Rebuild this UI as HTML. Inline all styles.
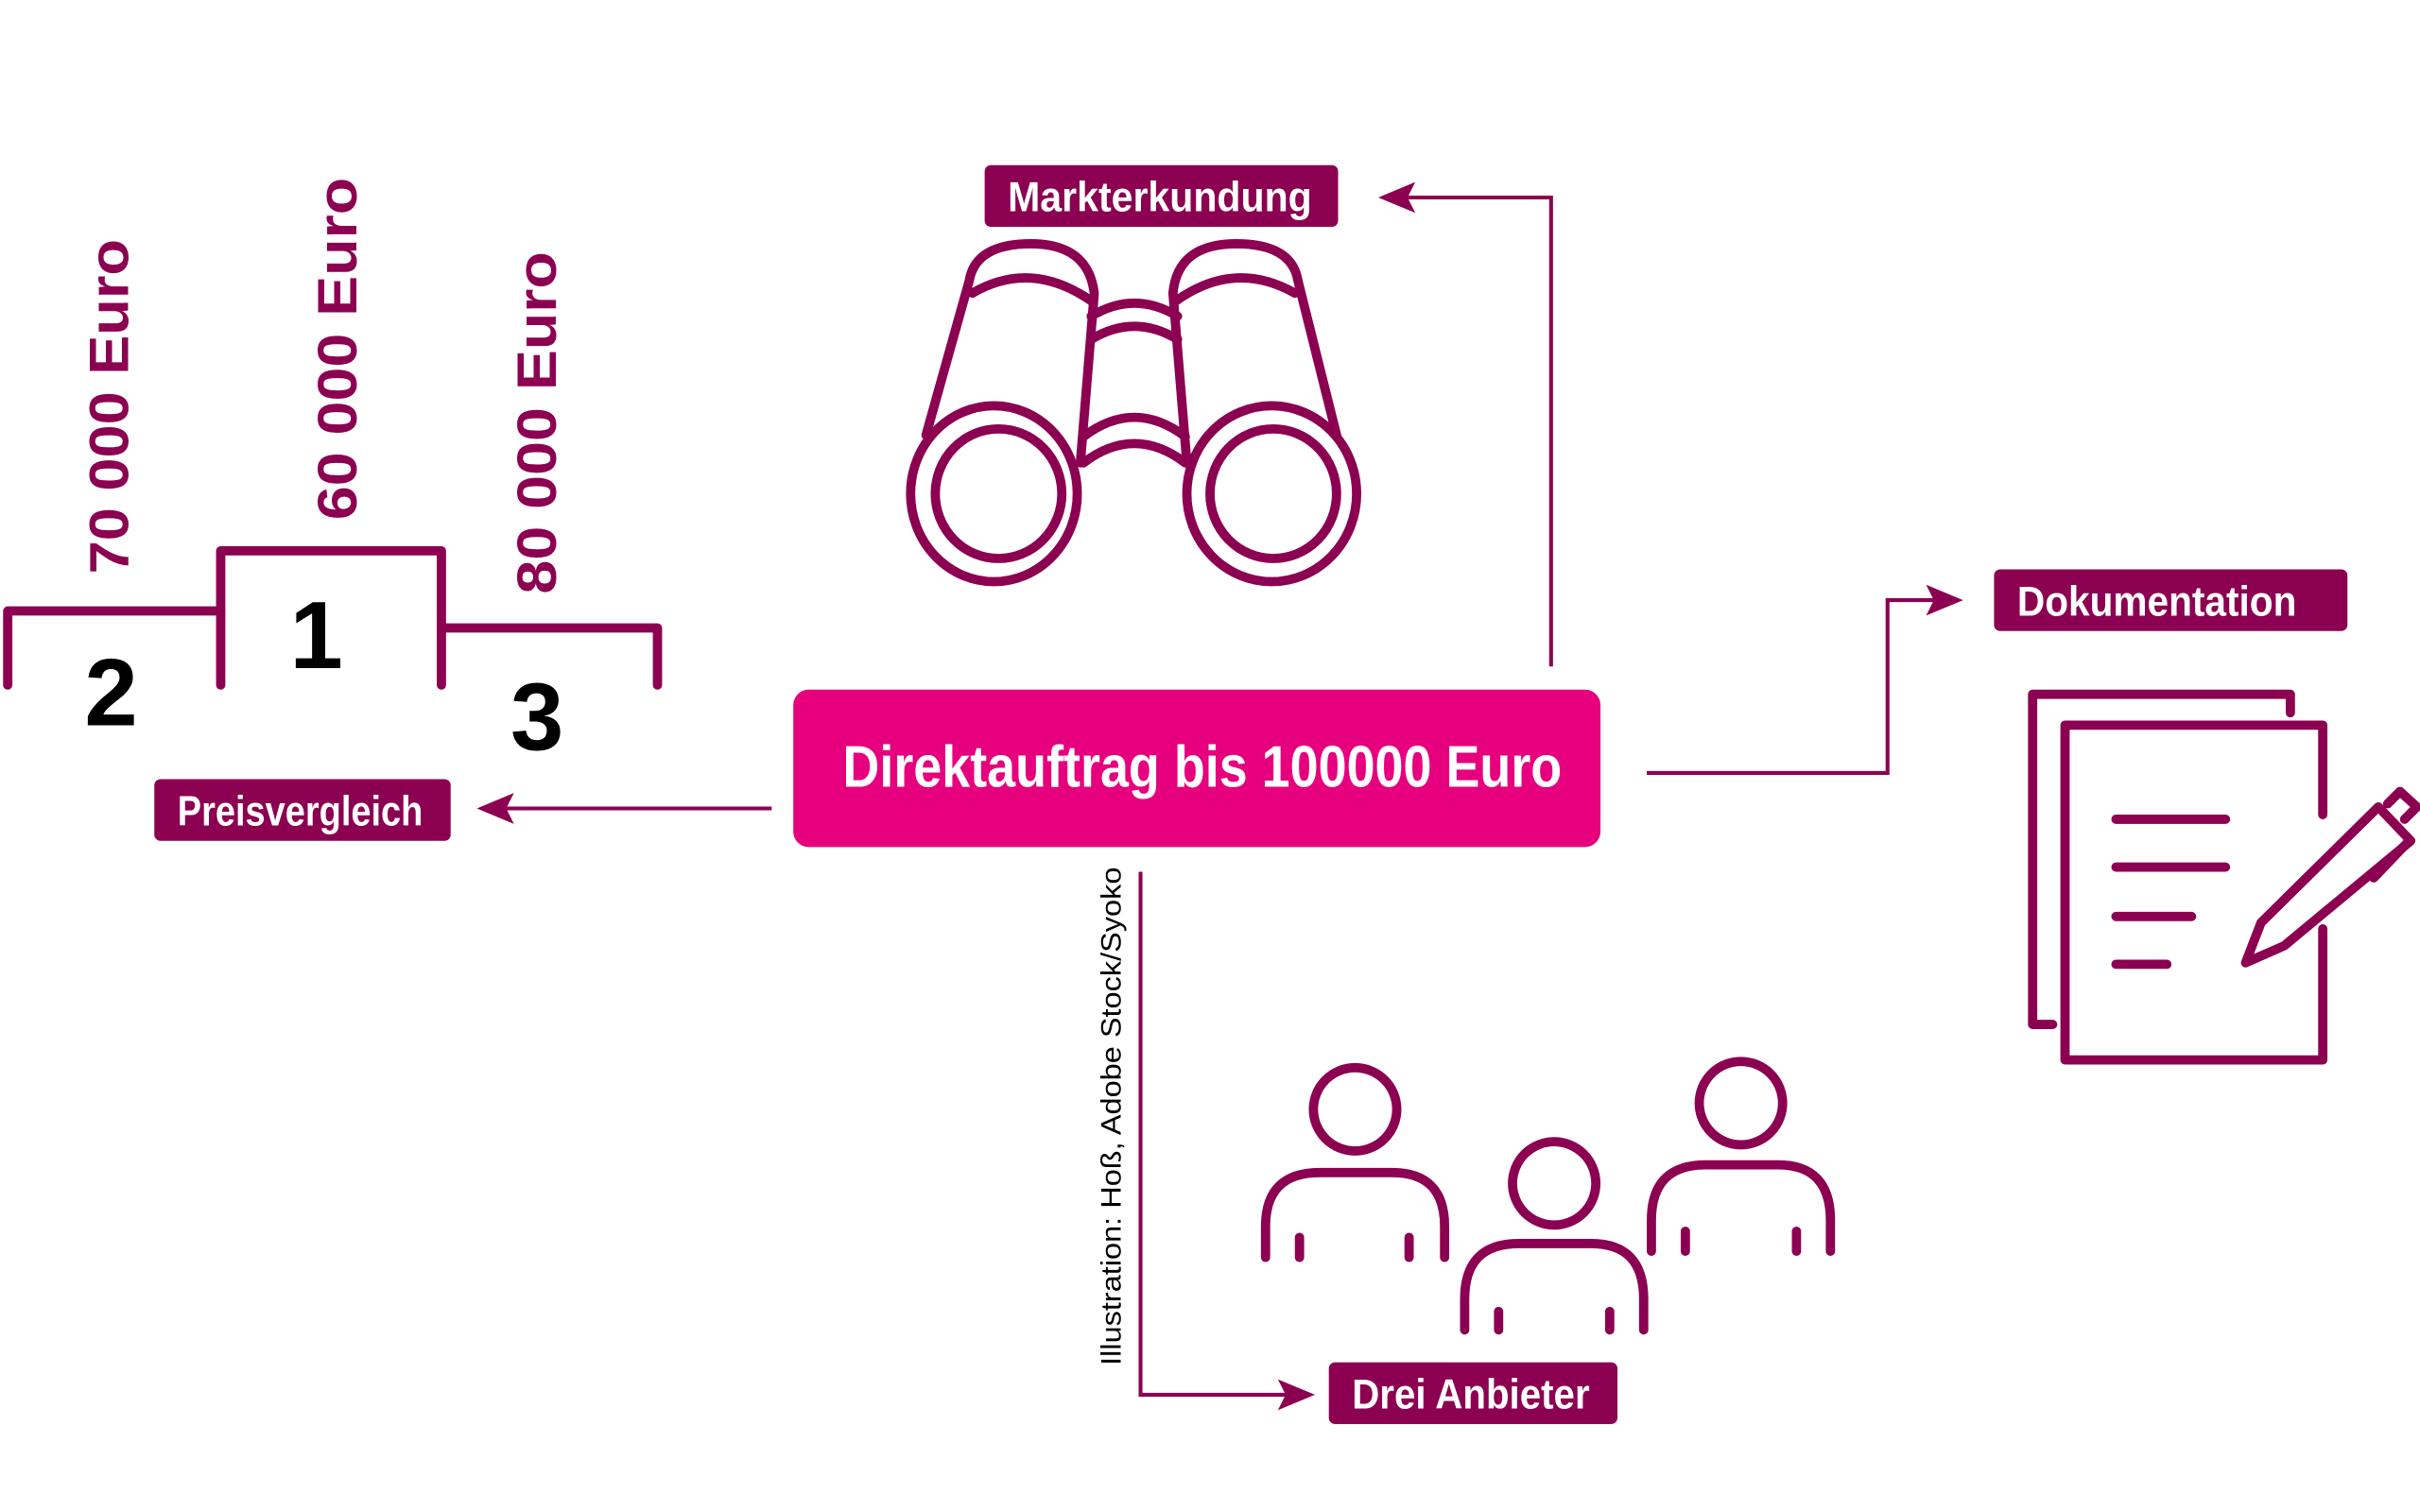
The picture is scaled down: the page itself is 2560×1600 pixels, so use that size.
<!DOCTYPE html>
<html><head><meta charset="utf-8"><style>
html,body{margin:0;padding:0;background:#fff}
svg{display:block}
text{font-family:"Liberation Sans Narrow","Liberation Sans",sans-serif;font-weight:bold}
</style></head><body>
<svg width="2560" height="1600" viewBox="0 0 1568 980" xmlns="http://www.w3.org/2000/svg">
<defs>
<g id="ah"><polygon points="0,0 -24,-10 -19,0 -24,10" fill="#8C0051"/></g>
</defs>
<g fill="none" stroke="#8C0051" stroke-width="6" stroke-linecap="round" stroke-linejoin="round">
<!-- podium -->
<polyline points="5,444 5,396 143,396"/>
<polyline points="143,444 143,357 286,357 286,444"/>
<polyline points="286,407 426,407 426,444"/>
<!-- binoculars -->
<ellipse cx="644" cy="320" rx="54" ry="57"/>
<ellipse cx="647" cy="320" rx="41" ry="42"/>
<ellipse cx="824" cy="320" rx="55" ry="57"/>
<ellipse cx="825" cy="320" rx="41" ry="42"/>
<path d="M600,282 L628,182 Q632,158 668,158 Q705,158 709,190 L700,300"/>
<path d="M630,190 Q668,168 707,195"/>
<path d="M866,282 L841,182 Q837,158 801,158 Q763,158 760,190 L769,300"/>
<path d="M762,195 Q800,168 839,190"/>
<path d="M707,205 Q735,188 763,205 M707,220 Q735,203 763,220"/>
<path d="M702,283 Q735,258 768,283 M702,300 Q735,275 768,300"/>
<!-- documents -->
<polyline points="1484,462 1484,450 1317,450 1317,664 1330,664"/>
<polyline points="1505,528 1505,470 1338,470 1338,687 1505,687 1505,602"/>
<line x1="1371" y1="531" x2="1442" y2="531"/>
<line x1="1371" y1="562" x2="1442" y2="562"/>
<line x1="1371" y1="594" x2="1420" y2="594"/>
<line x1="1371" y1="625" x2="1404" y2="625"/>
<polygon points="1455,624 1465,598 1541,523 1562,545 1480,613"/>
<polyline points="1547,521 1555,513 1566,523 1558,531"/>
<line x1="1538" y1="569" x2="1560" y2="546"/>
<!-- people -->
<circle cx="878" cy="719" r="27"/>
<path d="M820,815 L820,795 Q820,760 855,760 L902,760 Q936,760 936,795 L936,815"/>
<line x1="842" y1="802" x2="842" y2="815"/><line x1="913" y1="802" x2="913" y2="815"/>
<circle cx="1007" cy="767" r="27"/>
<path d="M949,862 L949,842 Q949,806 984,806 L1031,806 Q1065,806 1065,842 L1065,862"/>
<line x1="971" y1="850" x2="971" y2="862"/><line x1="1043" y1="850" x2="1043" y2="862"/>
<circle cx="1128" cy="715" r="27"/>
<path d="M1070,811 L1070,791 Q1070,755 1105,755 L1152,755 Q1186,755 1186,791 L1186,811"/>
<line x1="1092" y1="798" x2="1092" y2="811"/><line x1="1164" y1="798" x2="1164" y2="811"/>
</g>
<!-- connectors -->
<g fill="none" stroke="#8C0051" stroke-width="2.5">
<polyline points="1005,432 1005,128 905,128"/>
<line x1="500" y1="524" x2="320" y2="524"/>
<polyline points="1067,501 1223,501 1223,389 1260,389"/>
<polyline points="739,565 739,904 840,904"/>
</g>
<use href="#ah" transform="translate(893,128) rotate(180)"/>
<use href="#ah" transform="translate(309,524) rotate(180)"/>
<use href="#ah" transform="translate(1272,389)"/>
<use href="#ah" transform="translate(852,904)"/>
<!-- boxes -->
<rect x="514" y="447" width="523" height="102" rx="10" fill="#E6007E"/>
<rect x="638" y="107" width="229" height="40" rx="4" fill="#8C0051"/>
<rect x="100" y="505" width="192" height="40" rx="4" fill="#8C0051"/>
<rect x="1292" y="369" width="229" height="40" rx="4" fill="#8C0051"/>
<rect x="861" y="883" width="187" height="40" rx="4" fill="#8C0051"/>
<g fill="#fff">
<text x="546" y="510" font-size="38" textLength="466" lengthAdjust="spacingAndGlyphs">Direktauftrag bis 100000 Euro</text>
<text x="653" y="137" font-size="27" textLength="197" lengthAdjust="spacingAndGlyphs">Markterkundung</text>
<text x="115" y="535" font-size="27" textLength="159" lengthAdjust="spacingAndGlyphs">Preisvergleich</text>
<text x="1307" y="399" font-size="27" textLength="181" lengthAdjust="spacingAndGlyphs">Dokumentation</text>
<text x="876" y="913" font-size="27" textLength="154" lengthAdjust="spacingAndGlyphs">Drei Anbieter</text>
</g>
<g fill="#000" font-size="62" text-anchor="middle">
<text x="72" y="470">2</text>
<text x="205" y="433">1</text>
<text x="348" y="486">3</text>
</g>
<g fill="#8C0051" font-size="36">
<text transform="translate(83,372) rotate(-90)" textLength="217" lengthAdjust="spacingAndGlyphs">70 000 Euro</text>
<text transform="translate(231,337) rotate(-90)" textLength="222" lengthAdjust="spacingAndGlyphs">60 000 Euro</text>
<text transform="translate(360,385) rotate(-90)" textLength="222" lengthAdjust="spacingAndGlyphs">80 000 Euro</text>
</g>
<text transform="translate(726,885) rotate(-90)" font-size="18" font-weight="normal" style="font-weight:normal" fill="#000" textLength="323" lengthAdjust="spacingAndGlyphs">Illustration: Hoß, Adobe Stock/Syoko</text>
</svg>
</body></html>
